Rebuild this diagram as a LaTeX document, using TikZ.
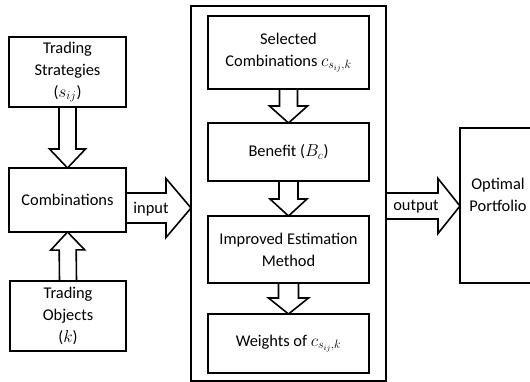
\documentclass[tikz,border=0pt]{standalone}
\usepackage{fontspec}
\setmainfont{Carlito}
\usetikzlibrary{calc}
\pgfdeclarelayer{bg}
\pgfsetlayers{bg,main}
\tikzset{
  bx/.style={draw, line width=1.6pt, rectangle, inner sep=0pt, outer sep=0pt,
    align=center, font=\fontsize{16.4}{22}\selectfont},
  blk/.style={draw, fill=white, line width=1.6pt, line join=miter},
  lbl/.style={font=\fontsize{16.4}{22}\selectfont, inner sep=0pt}
}
% start, tip, half shaft, half head, head length
\newcommand\blkarrow[5]{%
  \path (#1) coordinate (bs) (#2) coordinate (bt);
  \path ($(bt)!#5!(bs)$) coordinate (bh);
  \begin{pgfonlayer}{bg}
  \draw[blk] ($(bs)!#3!90:(bt)$) -- ($(bh)!#3!90:(bt)$) -- ($(bh)!#4!90:(bt)$)
    -- (bt) -- ($(bh)!#4!-90:(bt)$) -- ($(bh)!#3!-90:(bt)$)
    -- ($(bs)!#3!-90:(bt)$) -- cycle;
  \end{pgfonlayer}
}
\begin{document}
\begin{tikzpicture}[x=1pt, y=-1pt]
\useasboundingbox (0,0) rectangle (530,382);
% left column
\node[bx, minimum width=117pt, minimum height=70pt] (ts) at (67.5,72)
  {Trading\\Strategies\\($s_{ij}$)};
\node[bx, minimum width=117pt, minimum height=64pt] (comb) at (67.5,200)
  {Combinations};
\node[bx, minimum width=116pt, minimum height=70pt] (to) at (68,316)
  {Trading\\Objects\\($k$)};
% big box
\node[bx, minimum width=195pt, minimum height=375pt] (big) at (288.5,193.5) {};
\node[bx, minimum width=161pt, minimum height=73pt] (sc) at (288.5,52.5)
  {Selected\\Combinations $c_{s_{ij},k}$};
\node[bx, minimum width=161pt, minimum height=58pt] (ben) at (288.5,152)
  {Benefit ($B_c$)};
\node[bx, minimum width=161pt, minimum height=67pt] (ie) at (288.5,249.5)
  {Improved Estimation\\Method};
\node[bx, minimum width=161pt, minimum height=59pt] (wt) at (288.5,343.5)
  {Weights of $c_{s_{ij},k}$};
% output box (cut by the edge)
\begin{scope}
  \clip (0,0) rectangle (530,382);
  \node[bx, minimum width=78pt, minimum height=155pt] (op) at (499,205.5) {};
\end{scope}
\node[lbl, align=center] (opl) at (498,195) {Optimal\\Portfolio};
% arrows
\blkarrow{ts.south}{comb.north}{8.5pt}{18pt}{19pt}
\blkarrow{to.north}{comb.south}{8.5pt}{17pt}{18pt}
\blkarrow{comb.east |- 0,208}{big.west |- 0,208}{15pt}{29.5pt}{25pt}
\blkarrow{big.east |- 0,206}{op.west |- 0,206}{13pt}{27.5pt}{22pt}
\blkarrow{sc.south}{ben.north}{9pt}{19pt}{17pt}
\blkarrow{ben.south}{ie.north}{9.5pt}{18.5pt}{17pt}
\blkarrow{ie.south}{wt.north}{10pt}{20pt}{16pt}
\node[lbl] (inl) at (151,209) {input};
\node[lbl] (outl) at (416,207) {output};
\end{tikzpicture}
\end{document}
